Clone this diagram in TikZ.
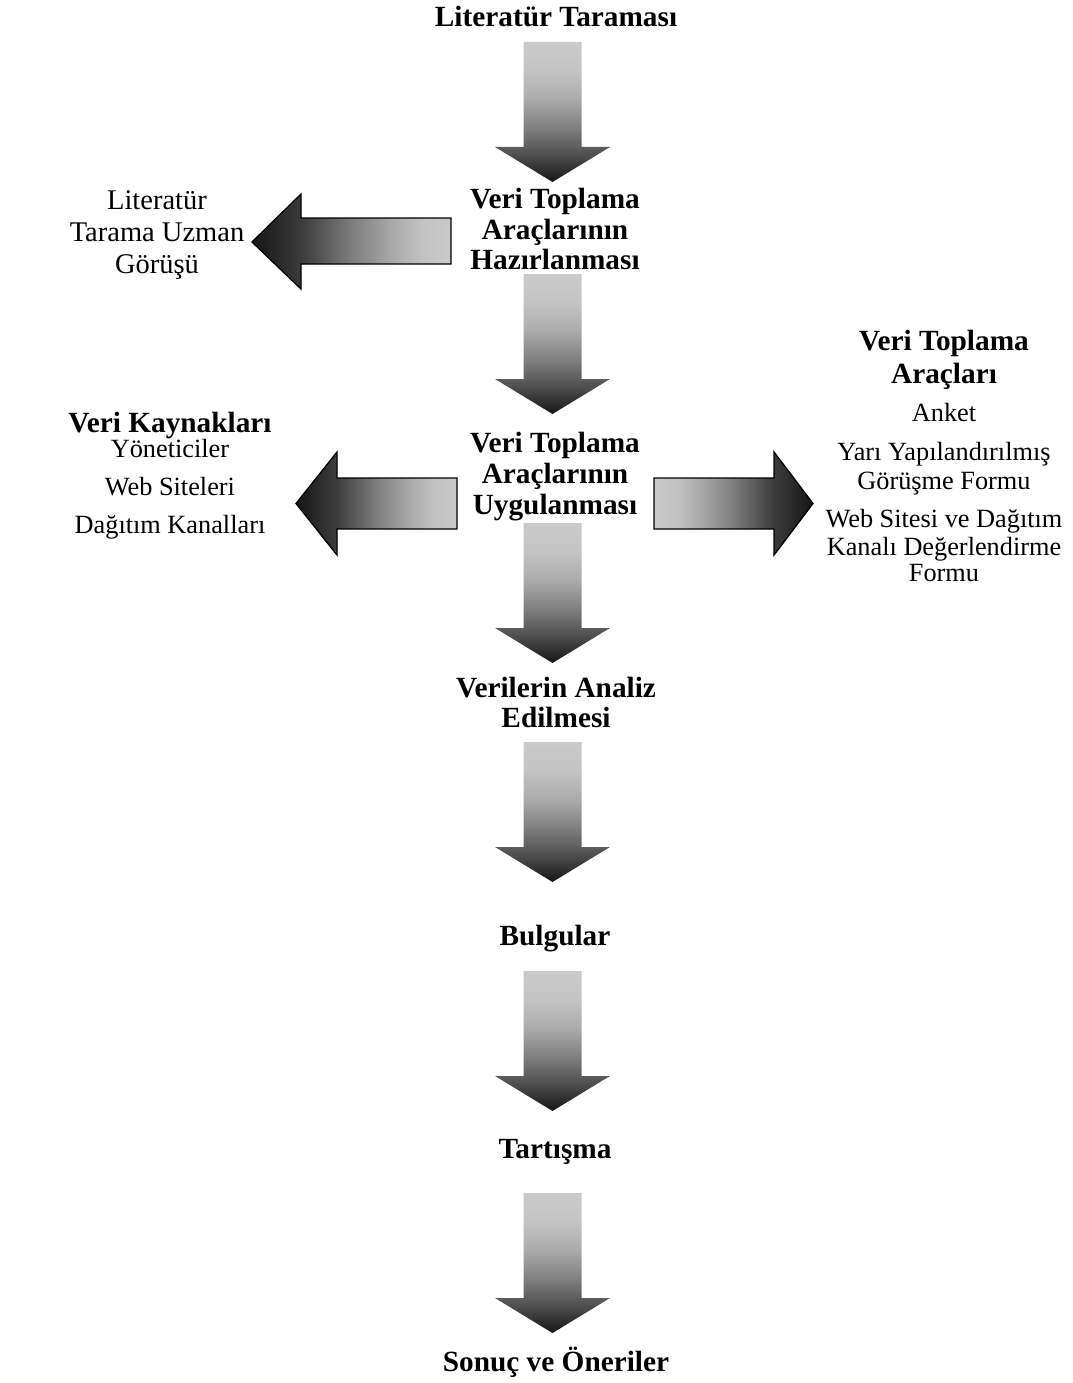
\documentclass[tikz,border=0pt]{standalone}
\usepackage{fontspec}
\setmainfont{Liberation Serif}
\definecolor{arrdark}{RGB}{22,22,22}
\definecolor{arrlight}{RGB}{202,202,202}
\definecolor{gA}{RGB}{196,196,196}
\definecolor{gB}{RGB}{172,172,172}
\definecolor{gC}{RGB}{130,130,130}
\definecolor{gD}{RGB}{80,80,80}
\definecolor{hA}{RGB}{60,60,60}
\definecolor{hB}{RGB}{125,125,125}
\definecolor{hC}{RGB}{168,168,168}
\definecolor{hD}{RGB}{194,194,194}
% shadings for the block arrows (the path box spans 25bp..75bp)
\pgfdeclareverticalshading{downshade}{100bp}{color(0bp)=(arrdark); color(25bp)=(arrdark);
  color(35bp)=(gD); color(45bp)=(gC); color(55bp)=(gB); color(65bp)=(gA);
  color(75bp)=(arrlight); color(100bp)=(arrlight)}
\pgfdeclarehorizontalshading{leftshade}{100bp}{color(0bp)=(arrdark); color(25bp)=(arrdark);
  color(37.5bp)=(hA); color(50bp)=(hB); color(60bp)=(hC); color(67.5bp)=(hD);
  color(75bp)=(arrlight); color(100bp)=(arrlight)}
\pgfdeclarehorizontalshading{rightshade}{100bp}{color(0bp)=(arrlight); color(25bp)=(arrlight);
  color(32.5bp)=(hD); color(40bp)=(hC); color(50bp)=(hB); color(62.5bp)=(hA);
  color(75bp)=(arrdark); color(100bp)=(arrdark)}
\begin{document}
\begin{tikzpicture}[x=1pt,y=-1pt,
  every node/.style={inner sep=0pt, anchor=base},
  headtxt/.style={font=\fontsize{29.3}{32}\selectfont\bfseries},
  bodytxt/.style={font=\fontsize{26.3}{28}\selectfont},
  bigtxt/.style={font=\fontsize{28.5}{32}\selectfont},
  sidearrow/.style={draw=black, line width=1.3pt, line join=miter},
  downarrow/.pic={
    \path[shading=downshade] (-29,0) -- (29,0) -- (29,105) -- (57.5,105)
      -- (0,140) -- (-57.5,105) -- (-29,105) -- cycle;
  }]
\useasboundingbox[fill=white] (0,0) rectangle (1072,1383);

% main column
\node[headtxt] (lit) at (556,27) {Literatür Taraması};
\node[headtxt] (hz1) at (555,208.5) {Veri Toplama};
\node[headtxt] (hz2) at (555,239) {Araçlarının};
\node[headtxt] (hz3) at (555,269.5) {Hazırlanması};
\node[headtxt] (uy1) at (555,452.5) {Veri Toplama};
\node[headtxt] (uy2) at (555,483.5) {Araçlarının};
\node[headtxt] (uy3) at (555,514) {Uygulanması};
\node[headtxt] (an1) at (556,697) {Verilerin Analiz};
\node[headtxt] (an2) at (556,727) {Edilmesi};
\node[headtxt] (bul) at (555,945) {Bulgular};
\node[headtxt] (tar) at (555,1158) {Tartışma};
\node[headtxt] (son) at (556,1371) {Sonuç ve Öneriler};

% left side, upper
\node[bigtxt] (lu1) at (157,209) {Literatür};
\node[bigtxt] (lu2) at (157,241) {Tarama Uzman};
\node[bigtxt] (lu3) at (157,273) {Görüşü};

% left side, lower
\node[headtxt] (vk0) at (170,432) {Veri Kaynakları};
\node[bodytxt] (vk1) at (170,457) {Yöneticiler};
\node[bodytxt] (vk2) at (170,495) {Web Siteleri};
\node[bodytxt] (vk3) at (170,533) {Dağıtım Kanalları};

% right side
\node[headtxt] (ra1) at (944,350) {Veri Toplama};
\node[headtxt] (ra2) at (944,383) {Araçları};
\node[bodytxt] (rb1) at (944,421) {Anket};
\node[bodytxt] (rb2) at (944,460) {Yarı Yapılandırılmış};
\node[bodytxt] (rb3) at (944,489) {Görüşme Formu};
\node[bodytxt] (rb4) at (944,527) {Web Sitesi ve Dağıtım};
\node[bodytxt] (rb5) at (944,555) {Kanalı Değerlendirme};
\node[bodytxt] (rb6) at (944,581) {Formu};

% downward block arrows
\pic at (552.5,42) {downarrow};
\pic at (552.5,274) {downarrow};
\pic at (552.5,523) {downarrow};
\pic at (552.5,742) {downarrow};
\pic at (552.5,971) {downarrow};
\pic at (552.5,1193) {downarrow};

% sideways block arrows
\path[sidearrow, shading=leftshade] (451,218) -- (301,218) -- (301,194) -- (252,242)
  -- (301,289) -- (301,264) -- (451,264) -- cycle;
\path[sidearrow, shading=leftshade] (457,478) -- (337,478) -- (337,452) -- (296,503.5)
  -- (337,555) -- (337,529) -- (457,529) -- cycle;
\path[sidearrow, shading=rightshade] (654,478) -- (774,478) -- (774,452) -- (813,503.5)
  -- (774,555) -- (774,529) -- (654,529) -- cycle;
\end{tikzpicture}
\end{document}
